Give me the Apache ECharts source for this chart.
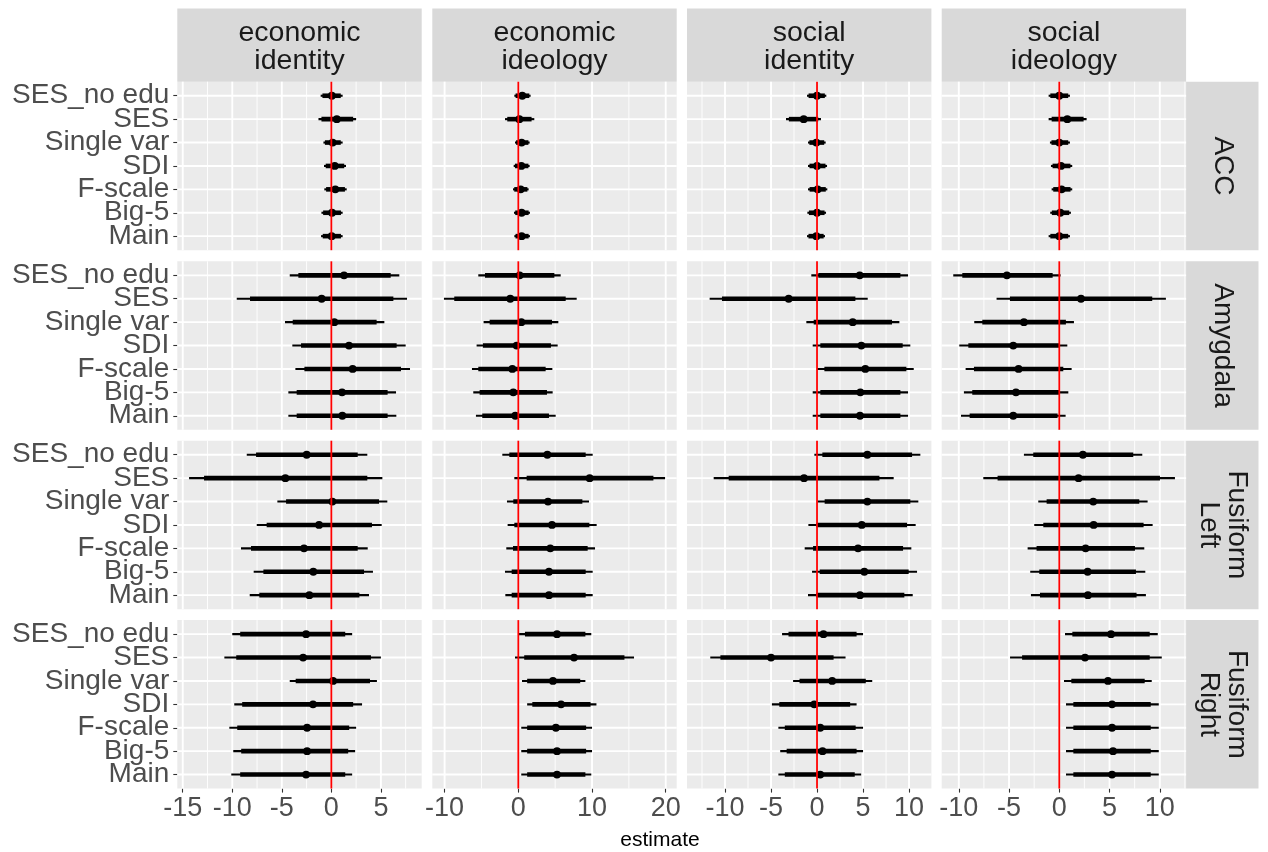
<!DOCTYPE html>
<html><head><meta charset="utf-8">
<script src="https://cdn.jsdelivr.net/npm/echarts@6/dist/echarts.min.js"></script>
<style>html,body{margin:0;padding:0;background:#fff}#c{width:1268px;height:852px}</style>
</head><body><div id="c"></div><script>
// ---------- data ----------
const models = ['SES_no edu','SES','Single var','SDI','F-scale','Big-5','Main'];
const outcomes = ['economic\nidentity','economic\nideology','social\nidentity','social\nideology'];
const regions = ['ACC','Amygdala','Fusiform\nLeft','Fusiform\nRight'];
const ticksEconIdentity = [-15,-10,-5,0,5];
const ticksEconIdeology = [-10,0,10,20];
const ticksSocIdentity = [-10,-5,0,5,10];
const ticksSocIdeology = [-10,-5,0,5,10];
// each row: [estimate, inner low, inner high, outer low, outer high]
const accEconIdentity = [[0.05,-0.9,0.95,-1.08,1.14],[0.55,-1.0,2.2,-1.3,2.5],[0.13,-0.65,0.95,-0.8,1.14],[0.34,-0.57,1.3,-0.74,1.48],[0.4,-0.53,1.37,-0.71,1.55],[0.07,-0.83,0.97,-1.0,1.14],[0.03,-0.87,0.97,-1.04,1.14]];
const accEconIdeology = [[0.54,-0.37,1.49,-0.54,1.67],[0.14,-1.5,1.8,-1.81,2.17],[0.45,-0.3,1.37,-0.45,1.54],[0.41,-0.46,1.37,-0.63,1.54],[0.32,-0.55,1.23,-0.72,1.4],[0.45,-0.42,1.4,-0.59,1.58],[0.45,-0.38,1.4,-0.54,1.58]];
const accSocIdentity = [[0,-0.92,0.85,-1.09,1.01],[-1.45,-3.06,0.13,-3.37,0.43],[-0.07,-0.83,0.78,-0.98,0.94],[0,-0.82,0.92,-0.98,1.09],[0.07,-0.81,0.95,-0.98,1.12],[0,-0.88,0.82,-1.05,0.98],[-0.07,-0.93,0.72,-1.09,0.87]];
const accSocIdeology = [[0,-0.89,0.89,-1.06,1.06],[0.8,-0.76,2.42,-1.06,2.72],[0,-0.78,0.89,-0.93,1.06],[0.17,-0.67,1.11,-0.83,1.29],[0.23,-0.6,1.12,-0.76,1.29],[0.1,-0.74,0.99,-0.9,1.16],[0,-0.89,0.89,-1.06,1.06]];
const amyEconIdentity = [[1.28,-3.33,5.99,-4.2,6.86],[-0.98,-8.21,6.26,-9.55,7.64],[0.3,-3.9,4.57,-4.68,5.35],[1.78,-3.06,6.59,-3.94,7.5],[2.15,-2.72,7.03,-3.63,7.94],[1.08,-3.5,5.68,-4.34,6.53],[1.11,-3.5,5.68,-4.34,6.56]];
const amyEconIdeology = [[0.18,-4.52,4.89,-5.43,5.75],[-1.09,-8.69,6.43,-10.09,7.92],[0.41,-3.89,4.57,-4.71,5.43],[-0.23,-4.8,4.43,-5.66,5.34],[-0.81,-5.43,3.71,-6.29,4.62],[-0.68,-5.25,3.89,-6.11,4.66],[-0.41,-4.89,4.16,-5.75,5.07]];
const amySocIdentity = [[4.64,0.14,9.06,-0.62,9.89],[-3.08,-10.33,4.17,-11.67,5.51],[3.88,-0.36,8.15,-1.16,8.95],[4.82,0.36,9.31,-0.47,10.14],[5.25,0.8,9.71,0,10.51],[4.71,0.36,9.06,-0.47,9.89],[4.67,0.36,9.06,-0.47,9.89]];
const amySocIdeology = [[-5.21,-9.65,-0.66,-10.55,0.13],[2.16,-4.91,9.25,-6.24,10.61],[-3.52,-7.66,0.66,-8.46,1.46],[-4.58,-9.05,0,-9.95,0.8],[-4.05,-8.49,0.4,-9.32,1.23],[-4.31,-8.66,0.07,-9.49,0.9],[-4.58,-8.92,-0.17,-9.78,0.63]];
const fusLEconIdentity = [[-2.49,-7.6,2.66,-8.54,3.63],[-4.64,-12.85,3.63,-14.36,5.15],[0.1,-4.57,4.81,-5.45,5.65],[-1.24,-6.53,4.1,-7.53,5.08],[-2.76,-8.11,2.66,-9.12,3.67],[-1.82,-6.86,3.3,-7.84,4.2],[-2.22,-7.27,2.83,-8.24,3.8]];
const fusLEconIdeology = [[3.94,-1.22,9.14,-2.17,10.09],[9.68,1.13,18.33,-0.54,19.91],[4.03,-0.68,8.69,-1.54,9.59],[4.57,-0.54,9.64,-1.45,10.63],[4.34,-0.72,9.41,-1.63,10.41],[4.16,-0.9,9.14,-1.81,10.09],[4.16,-0.9,9.14,-1.76,10.09]];
const fusLSocIdentity = [[5.47,0.58,10.33,-0.29,11.23],[-1.41,-9.6,6.78,-11.23,8.33],[5.47,0.83,10.14,0.07,11.01],[4.86,-0.07,9.78,-0.94,10.72],[4.46,-0.43,9.35,-1.34,10.25],[5.14,0.29,9.96,-0.54,10.87],[4.67,-0.07,9.49,-0.98,10.4]];
const fusLSocIdeology = [[2.35,-2.59,7.36,-3.52,8.26],[1.92,-6.14,10.02,-7.56,11.51],[3.38,-1.26,7.96,-2.09,8.79],[3.42,-1.59,8.39,-2.49,9.29],[2.62,-2.26,7.53,-3.15,8.46],[2.82,-1.99,7.63,-2.89,8.56],[2.85,-1.92,7.69,-2.82,8.62]];
const fusREconIdentity = [[-2.55,-9.2,1.4,-10.0,2.1],[-2.85,-9.6,4.0,-10.8,5.0],[0.17,-3.6,3.9,-4.2,4.6],[-1.85,-9.0,2.2,-9.8,3.1],[-2.45,-9.5,1.8,-10.3,2.5],[-2.45,-9.1,1.7,-9.9,2.4],[-2.55,-9.2,1.4,-10.1,2.1]];
const fusREconIdeology = [[5.25,0.9,9.1,0.1,9.9],[7.56,0.8,14.4,-0.45,15.7],[4.7,1.2,8.4,0.5,9.1],[5.8,1.9,9.8,1.2,10.6],[5.1,1.2,9.2,0.4,10.0],[5.25,1.2,9.2,0.4,10.0],[5.25,1.2,9.1,0.4,9.9]];
const fusRSocIdentity = [[0.7,-3.1,4.3,-3.8,5.0],[-5.0,-10.5,1.8,-11.6,3.1],[1.65,-1.9,5.3,-2.6,6.0],[-0.3,-4.1,3.6,-4.9,4.3],[0.35,-3.5,4.2,-4.2,5.0],[0.6,-3.3,4.3,-4.0,5.0],[0.35,-3.5,4.1,-4.2,4.8]];
const fusRSocIdeology = [[5.15,1.3,9.0,0.57,9.8],[2.56,-3.7,9.0,-4.9,10.2],[4.85,1.2,8.5,0.47,9.2],[5.25,1.4,9.1,0.67,9.9],[5.25,1.4,9.1,0.67,9.9],[5.35,1.4,9.1,0.67,9.9],[5.25,1.4,9.1,0.67,9.9]];

const panelData = [
  [accEconIdentity, accEconIdeology, accSocIdentity, accSocIdeology],
  [amyEconIdentity, amyEconIdeology, amySocIdentity, amySocIdeology],
  [fusLEconIdentity, fusLEconIdeology, fusLSocIdentity, fusLSocIdeology],
  [fusREconIdentity, fusREconIdeology, fusRSocIdentity, fusRSocIdeology]
];
const colTicks = [ticksEconIdentity, ticksEconIdeology, ticksSocIdentity, ticksSocIdeology];

// ---------- layout ----------
const FONT = '"Liberation Sans", Arial, Helvetica, sans-serif';
const PW = 244.4, PH = 168.5;
const colX = [177.3, 432.3, 687.0, 941.7];
const rowY = [81.7, 261.3, 440.7, 620.1];
const xRange = [[-15.55, 9.12], [-11.67, 21.49], [-14.13, 12.43], [-11.7, 12.62]];
const Y_MIN = -0.6, Y_MAX = 6.6;

const grids = [], xAxes = [], yAxes = [], series = [];
const yIdx = models.map((m, i) => i);
// padding entries at the very panel edges (empty, hidden) so that no real label is dropped
const yLabelVals = [Y_MIN + 0.01].concat(yIdx, [Y_MAX - 0.01]);

function gridRender(params, api) {
  const kind = api.value(0), v = api.value(1);
  let a, b, w;
  if (kind === 2) {
    const xr = xRange[api.value(2)];
    a = api.coord([xr[0], v]); b = api.coord([xr[1], v]); w = 1.9;
  } else {
    a = api.coord([v, Y_MIN]); b = api.coord([v, Y_MAX]); w = kind === 0 ? 1.9 : 0.9;
  }
  return {type: 'line', shape: {x1: a[0], y1: a[1], x2: b[0], y2: b[1]},
    style: {stroke: '#FFFFFF', lineWidth: w}, silent: true};
}
function pointRender(params, api) {
  const y = api.value(0);
  const p = api.coord([api.value(1), y]);
  const t1 = api.coord([api.value(2), y]), t2 = api.coord([api.value(3), y]);
  const o1 = api.coord([api.value(4), y]), o2 = api.coord([api.value(5), y]);
  return {type: 'group', children: [
    {type: 'line', shape: {x1: o1[0], y1: o1[1], x2: o2[0], y2: o2[1]}, style: {stroke: '#000', lineWidth: 2.1}},
    {type: 'line', shape: {x1: t1[0], y1: t1[1], x2: t2[0], y2: t2[1]}, style: {stroke: '#000', lineWidth: 4.6}},
    {type: 'circle', shape: {cx: p[0], cy: p[1], r: 3.9}, style: {fill: '#000'}}
  ]};
}
function zeroRender(params, api) {
  const a = api.coord([0, Y_MIN]), b = api.coord([0, Y_MAX]);
  return {type: 'line', shape: {x1: a[0], y1: a[1], x2: b[0], y2: b[1]}, style: {stroke: '#FF0000', lineWidth: 1.8}};
}

for (let r = 0; r < 4; r++) {
  for (let c = 0; c < 4; c++) {
    const g = r * 4 + c;
    grids.push({left: colX[c], top: rowY[r], width: PW, height: PH, show: true,
      backgroundColor: '#EBEBEB', borderWidth: 0, containLabel: false});
    const ticks = colTicks[c];
    xAxes.push({gridIndex: g, type: 'value', position: 'bottom', min: xRange[c][0], max: xRange[c][1],
      axisLine: {show: false, onZero: false}, splitLine: {show: false},
      axisTick: {show: r === 3, customValues: ticks, length: 4, lineStyle: {color: '#333333', width: 1.1}},
      axisLabel: {show: r === 3, customValues: ticks, fontSize: 27, fontFamily: FONT, color: '#4D4D4D', margin: 6,
        showMinLabel: true, showMaxLabel: true, hideOverlap: false, formatter: v => String(v)}});
    yAxes.push({gridIndex: g, type: 'value', position: 'left', min: Y_MIN, max: Y_MAX, inverse: true,
      axisLine: {show: false, onZero: false}, splitLine: {show: false},
      axisTick: {show: c === 0, customValues: yLabelVals, length: 4, lineStyle: {color: '#333333', width: 1.1}},
      axisLabel: {show: c === 0, customValues: yLabelVals, fontSize: 28, fontFamily: FONT, color: '#4D4D4D', margin: 8,
        showMinLabel: false, showMaxLabel: false, hideOverlap: false,
        formatter: v => { const i = Math.round(v); return Math.abs(v - i) < 1e-6 && models[i] ? models[i] : ''; }}});
    // gridlines derived from the tick values
    const step = ticks[1] - ticks[0];
    const gl = [];
    for (let v = ticks[0] - step; v <= xRange[c][1] + 1e-9; v += step / 2) {
      if (v < xRange[c][0] - 1e-9) continue;
      const isMajor = Math.abs(((v - ticks[0]) / step) - Math.round((v - ticks[0]) / step)) < 1e-6;
      gl.push([isMajor ? 0 : 1, v, c]);
    }
    yIdx.forEach(i => gl.push([2, i, c]));
    series.push({type: 'custom', xAxisIndex: g, yAxisIndex: g, z: 1, silent: true, animation: false,
      renderItem: gridRender, data: gl, encode: {x: 1, y: 1}});
    series.push({type: 'custom', xAxisIndex: g, yAxisIndex: g, z: 2, silent: true, animation: false,
      renderItem: pointRender,
      data: panelData[r][c].map((row, i) => [i, row[0], row[1], row[2], row[3], row[4]]),
      encode: {x: [1, 2, 3, 4, 5], y: 0}});
    series.push({type: 'custom', xAxisIndex: g, yAxisIndex: g, z: 3, silent: true, animation: false,
      renderItem: zeroRender, data: [[0]], encode: {x: 0}});
  }
}

const graphics = [];
const STRIP_TOP = 8.5, STRIP_H = rowY[0] - 8.5;
const RSTRIP_X = colX[3] + PW, RSTRIP_W = 72.4;
outcomes.forEach((t, c) => {
  graphics.push({type: 'rect', shape: {x: colX[c], y: STRIP_TOP, width: PW, height: STRIP_H}, style: {fill: '#D9D9D9'}, silent: true});
  graphics.push({type: 'text', x: colX[c] + PW / 2, y: STRIP_TOP + STRIP_H / 2 + 2, silent: true,
    style: {text: t, fontSize: 28.5, fontFamily: FONT, fill: '#1A1A1A', align: 'center', verticalAlign: 'middle', lineHeight: 28.5}});
});
regions.forEach((t, r) => {
  graphics.push({type: 'rect', shape: {x: RSTRIP_X, y: rowY[r], width: RSTRIP_W, height: PH}, style: {fill: '#D9D9D9'}, silent: true});
  graphics.push({type: 'text', x: RSTRIP_X + RSTRIP_W / 2, y: rowY[r] + PH / 2, rotation: -Math.PI / 2, silent: true,
    style: {text: t, fontSize: 28, fontFamily: FONT, fill: '#1A1A1A', align: 'center', verticalAlign: 'middle', lineHeight: 28}});
});
graphics.push({type: 'text', x: 660, y: 840, silent: true,
  style: {text: 'estimate', fontSize: 21, fontFamily: FONT, fill: '#000000', align: 'center', verticalAlign: 'middle'}});

const chart = echarts.init(document.getElementById('c'), null, {renderer: 'canvas'});
chart.setOption({animation: false, backgroundColor: '#FFFFFF', grid: grids, xAxis: xAxes, yAxis: yAxes, series: series, graphic: graphics});
</script></body></html>
